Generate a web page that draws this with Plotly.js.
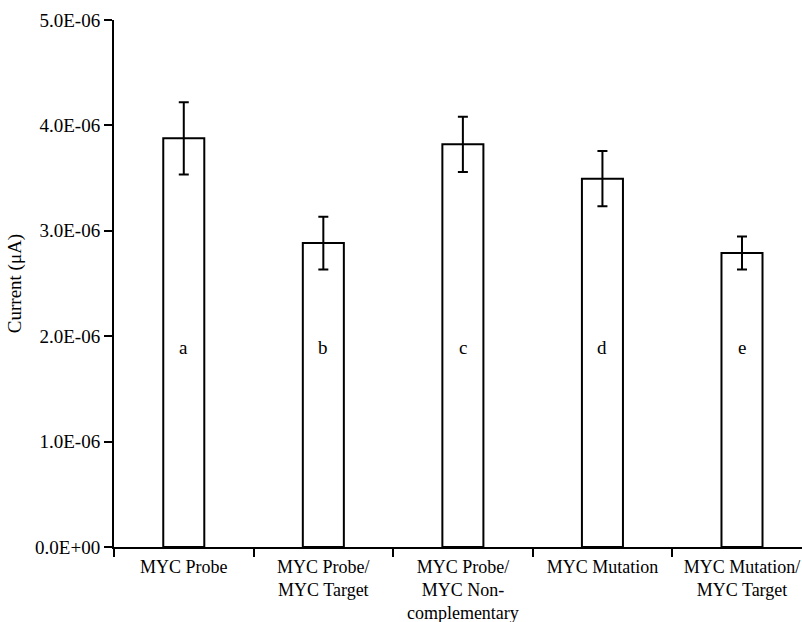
<!DOCTYPE html>
<html>
<head>
<meta charset="utf-8">
<script src="https://cdn.plot.ly/plotly-3.0.1.min.js"></script>
<style>html,body{margin:0;padding:0;background:#fff;}</style>
</head>
<body>
<div id="chart" style="width:802px;height:622px;"></div>
<script>
const categories = ["MYC Probe", "MYC Probe/<br>MYC Target", "MYC Probe/<br>MYC Non-<br>complementary", "MYC Mutation", "MYC Mutation/<br>MYC Target"];
const currents = [3.877e-6, 2.884e-6, 3.820e-6, 3.495e-6, 2.789e-6];
const errors = [0.342e-6, 0.250e-6, 0.262e-6, 0.263e-6, 0.157e-6];
const letters = ["a", "b", "c", "d", "e"];
const letterY = 1.89e-6;
const yTickVals = [0, 1e-6, 2e-6, 3e-6, 4e-6, 5e-6];
const yTickText = ["0.0E+00", "1.0E-06", "2.0E-06", "3.0E-06", "4.0E-06", "5.0E-06"];

const font = {family: "Liberation Serif, Times New Roman, serif", size: 19, color: "#000"};
const xfont = {family: "Liberation Serif, Times New Roman, serif", size: 18, color: "#000"};

const trace = {
  type: "bar",
  x: categories,
  y: currents,
  width: 0.294,
  marker: {color: "#fff", line: {color: "#000", width: 2}},
  error_y: {type: "data", array: errors, visible: true, color: "#000", thickness: 2, width: 5},
  hoverinfo: "none"
};

const annotations = letters.map((t, i) => ({
  x: categories[i], y: letterY, xref: "x", yref: "y", text: t, showarrow: false, font: font
}));

const layout = {
  width: 802, height: 622,
  margin: {l: 114, r: 0, t: 20, b: 75},
  paper_bgcolor: "#fff", plot_bgcolor: "#fff",
  font: font,
  showlegend: false,
  bargap: 0,
  xaxis: {
    type: "category",
    range: [-0.5, 4.43],
    tickson: "boundaries",
    ticks: "outside", ticklen: 8, tickwidth: 2, tickcolor: "#000",
    ticklabelstandoff: 2,
    showline: true, linecolor: "#000", linewidth: 2,
    showgrid: false, zeroline: false,
    tickfont: xfont,
    automargin: false
  },
  yaxis: {
    range: [0, 5e-6],
    tickvals: yTickVals, ticktext: yTickText,
    ticks: "outside", ticklen: 8, tickwidth: 2, tickcolor: "#000",
    showline: true, linecolor: "#000", linewidth: 2,
    showgrid: false, zeroline: false,
    tickfont: font,
    title: {text: "Current (μA)", font: font, standoff: 8},
    automargin: false
  },
  annotations: annotations
};

Plotly.newPlot("chart", [trace], layout, {staticPlot: true, displayModeBar: false});
</script>
</body>
</html>
